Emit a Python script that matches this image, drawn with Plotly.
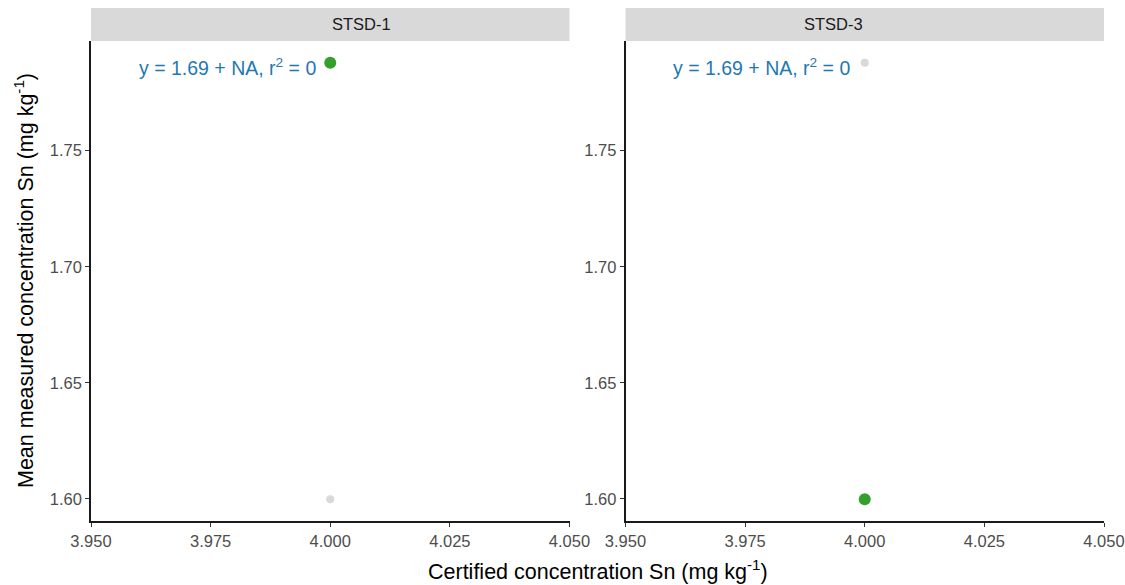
import plotly.graph_objects as go

panels = ["STSD-1", "STSD-3"]
certified = [4.0, 4.0]
measured = [1.7878, 1.5999]          # STSD-1, STSD-3 mean measured values
eq_label = "y = 1.69 + NA, r<sup>2</sup> = 0"
x_ticks = [3.950, 3.975, 4.000, 4.025, 4.050]
y_ticks = [1.60, 1.65, 1.70, 1.75]

GREEN = "#33a02c"
GREY = "#d9d9d9"
BLUE = "#1f78b4"
FONT = "Liberation Sans, Arial"

W, H = 1125, 585
ml, mr, mt, mb = 91, 21, 41, 64
pw = W - ml - mr
gap = 56
panel_w = (pw - gap) / 2
doms = [[0, panel_w / pw], [(panel_w + gap) / pw, 1]]

fig = go.Figure()
for i, name in enumerate(panels):
    xa = "x" if i == 0 else "x2"
    ya = "y" if i == 0 else "y2"
    others = [j for j in range(len(panels)) if j != i]
    fig.add_trace(go.Scatter(
        x=[certified[j] for j in others], y=[measured[j] for j in others],
        mode="markers", marker=dict(color=GREY, size=8, line=dict(width=0)),
        xaxis=xa, yaxis=ya, showlegend=False, hoverinfo="skip"))
    fig.add_trace(go.Scatter(
        x=[certified[i]], y=[measured[i]], mode="markers",
        marker=dict(color=GREEN, size=12, line=dict(width=0)),
        xaxis=xa, yaxis=ya, showlegend=False))
    fig.add_annotation(x=3.9785, y=1.786, xref=xa, yref=ya, text=eq_label,
                       showarrow=False, font=dict(size=19.5, color=BLUE, family=FONT))
    fig.add_shape(type="rect", xref="paper", yref="paper",
                  x0=doms[i][0], x1=doms[i][1], y0=1.0, y1=1 + 33 / (H - mt - mb),
                  fillcolor="#d9d9d9", line=dict(width=0), layer="below")
    fig.add_annotation(x=(doms[i][0] + doms[i][1]) / 2, y=1 + 16.5 / (H - mt - mb),
                       xref="paper", yref="paper", text=name, showarrow=False,
                       font=dict(size=16.5, color="#1a1a1a", family=FONT),
                       yanchor="middle")

axis_common = dict(showline=True, linecolor="#1a1a1a", linewidth=1.6, ticks="outside",
                   ticklen=4, tickwidth=1.3, tickcolor="#333333", showgrid=False,
                   zeroline=False, automargin=False,
                   tickfont=dict(size=16.5, color="#4d4d4d", family=FONT))

for i in range(2):
    sfx = "" if i == 0 else str(i + 1)
    fig.layout["xaxis" + sfx] = dict(axis_common, domain=doms[i], range=[3.95, 4.05],
                                     tickvals=x_ticks, tickformat=".3f",
                                     anchor="y" + sfx)
    fig.layout["yaxis" + sfx] = dict(axis_common, range=[1.5905, 1.7972],
                                     tickvals=y_ticks, tickformat=".2f",
                                     anchor="x" + sfx)

fig.add_annotation(x=0.5, y=0, xref="paper", yref="paper", yshift=-49,
                   text="Certified concentration Sn (mg kg<sup>-1</sup>)", showarrow=False,
                   font=dict(size=21.5, color="black", family=FONT),
                   yanchor="middle")
fig.add_annotation(x=0, y=0.5, xref="paper", yref="paper", xshift=-67,
                   text="Mean measured concentration Sn (mg kg<sup>-1</sup>)", showarrow=False,
                   textangle=-90,
                   font=dict(size=21.5, color="black", family=FONT),
                   xanchor="center")

fig.update_layout(width=W, height=H, margin=dict(l=ml, r=mr, t=mt, b=mb, autoexpand=False),
                  plot_bgcolor="white", paper_bgcolor="white", showlegend=False)

fig.write_html("out.html")
